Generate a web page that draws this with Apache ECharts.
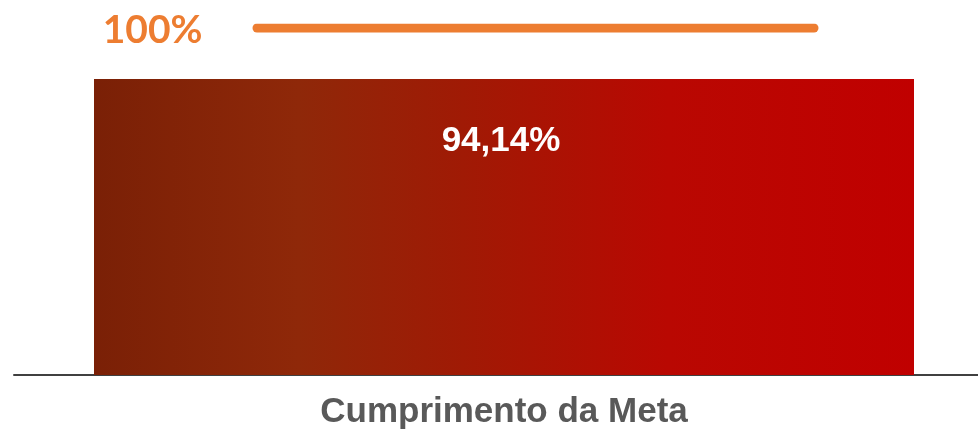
<!DOCTYPE html>
<html>
<head>
<meta charset="utf-8">
<script src="https://cdn.jsdelivr.net/npm/echarts@6/dist/echarts.min.js"></script>
<style>
html, body { margin: 0; padding: 0; background: #fff; }
#chart { width: 978px; height: 431px; }
</style>
</head>
<body>
<div id="chart"></div>
<script>
var categories = ['Cumprimento da Meta'];
var realizado = [94.14];
var metaLabel = ['100%'];
var metaValues = [100, 100];

var narrow = '"Liberation Sans Narrow", "Arial Narrow", "Liberation Sans", sans-serif';
var myChart = echarts.init(document.getElementById('chart'));

var option = {
	animation: false,
	grid: [
		{ left: 94, right: 64, top: 79, bottom: 56 },
		{ left: 257, right: 164, top: 28, bottom: 56 },
		{ left: 14, right: 0, top: 28, bottom: 56 }
	],
	xAxis: [
		{
			gridIndex: 0,
			type: 'category',
			data: categories,
			axisLine: { show: false },
			axisTick: { show: false },
			axisLabel: {
				color: '#595959',
				fontFamily: narrow,
				fontWeight: 'bold',
				fontSize: 35,
				margin: 20
			}
		},
		{ gridIndex: 1, type: 'value', min: 0, max: 1, show: false },
		{
			gridIndex: 2,
			type: 'category',
			data: [''],
			axisLine: { lineStyle: { color: '#404040', width: 2 } },
			axisTick: { show: false },
			axisLabel: { show: false }
		}
	],
	yAxis: [
		{ gridIndex: 0, type: 'value', min: 0, max: 'dataMax', show: false, splitLine: { show: false } },
		{ gridIndex: 1, type: 'value', min: 0, max: 100, show: false, splitLine: { show: false } },
		{ gridIndex: 2, type: 'value', show: false, splitLine: { show: false } }
	],
	series: [
		{
			type: 'bar',
			xAxisIndex: 0,
			yAxisIndex: 0,
			barWidth: '100%',
			data: realizado,
			itemStyle: {
				color: new echarts.graphic.LinearGradient(0, 0, 1, 0, [
					{ offset: 0, color: '#7a2006' },
					{ offset: 0.25, color: '#8f2809' },
					{ offset: 0.45, color: '#a01a05' },
					{ offset: 0.7, color: '#b90802' },
					{ offset: 1, color: '#c00000' }
				])
			},
			label: {
				show: true,
				position: 'insideTop',
				distance: 45,
				color: '#fff',
				fontFamily: narrow,
				fontWeight: 'bold',
				fontSize: 35,
				offset: [-3, 0],
				formatter: function(p) {
					return p.value.toFixed(2).replace('.', ',') + '%';
				}
			}
		},
		{
			type: 'line',
			xAxisIndex: 1,
			yAxisIndex: 1,
			symbol: 'circle',
			symbolSize: 1,
			itemStyle: { color: '#ed7d31' },
			lineStyle: { color: '#ed7d31', width: 9, cap: 'round' },
			data: [
				{
					value: [0, metaValues[0]],
					label: {
						show: true,
						position: 'left',
						distance: 54,
						formatter: metaLabel[0],
						color: '#ed7d31',
						fontFamily: 'Lato, sans-serif',
						fontWeight: 'bold',
						fontSize: 39,
						offset: [0, 2]
					}
				},
				[1, metaValues[1]]
			]
		}
	]
};
myChart.setOption(option);
</script>
</body>
</html>
